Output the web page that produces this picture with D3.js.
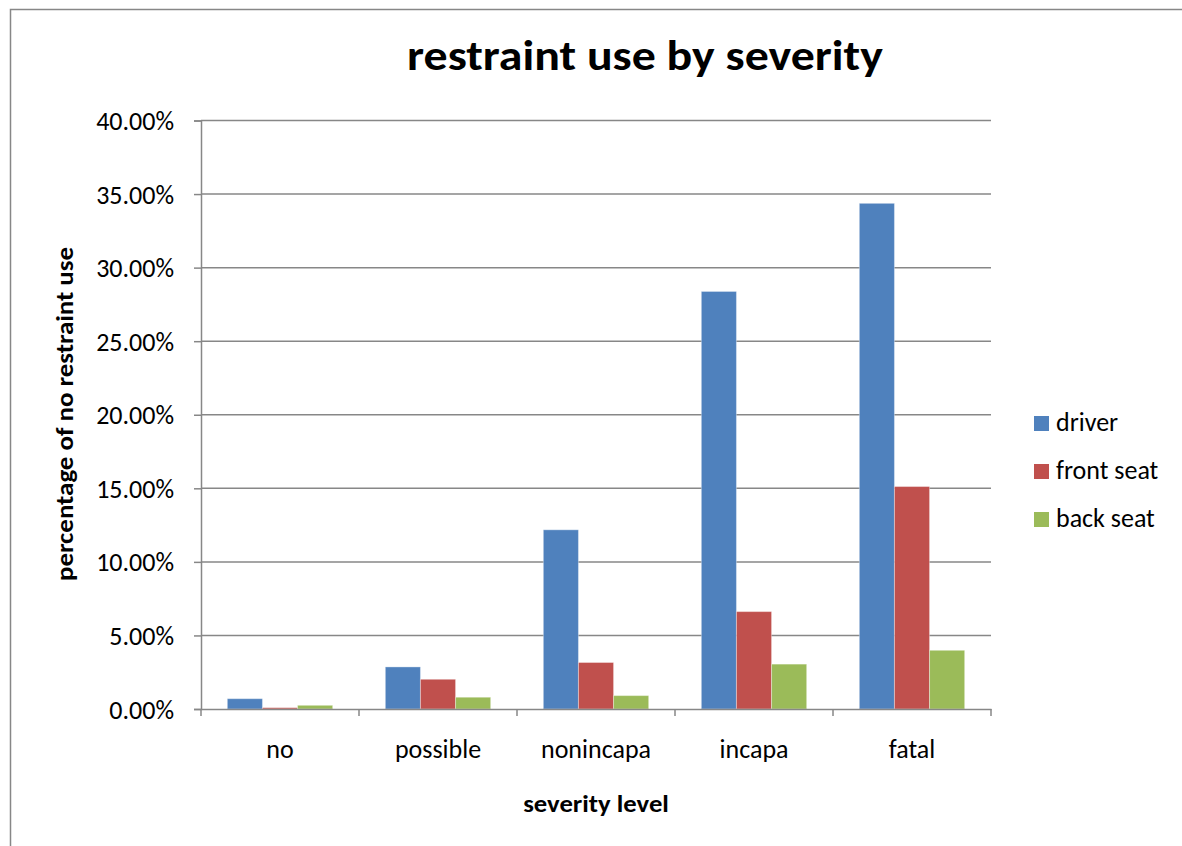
<!DOCTYPE html>
<html>
<head>
<meta charset="utf-8">
<script src="https://cdn.jsdelivr.net/npm/d3@7"></script>
<style>
  html, body { margin: 0; padding: 0; background: #fff; }
  svg { display: block; }
  text { font-family: Carlito, Lato, "Open Sans", sans-serif; fill: #000; }
</style>
</head>
<body>
<svg id="chart" width="1182" height="846"></svg>
<script>
const categories = ["no", "possible", "nonincapa", "incapa", "fatal"];
const seriesNames = ["driver", "front seat", "back seat"];
const driver    = [0.0070, 0.0286, 0.1218, 0.2838, 0.3437];
const frontSeat = [0.0009, 0.0202, 0.0316, 0.0662, 0.1512];
const backSeat  = [0.0025, 0.0080, 0.0091, 0.0305, 0.0399];
const yTicks = [0, 0.05, 0.10, 0.15, 0.20, 0.25, 0.30, 0.35, 0.40];
const colors = ["#4F81BD", "#C0504D", "#9BBB59"];

const seriesValues = [driver, frontSeat, backSeat];
const svg = d3.select("#chart");
const gray = "#878787";

// widen a text horizontally (reference font is wider than the available one)
function stretch(sel, factor) {
  sel.each(function () {
    const w = this.getComputedTextLength();
    d3.select(this).attr("textLength", w * factor).attr("lengthAdjust", "spacingAndGlyphs");
  });
}

// chart frame (top and left edges visible)
svg.append("path")
  .attr("d", "M10.5,846 L10.5,9.5 L1182,9.5")
  .attr("fill", "none").attr("stroke", gray).attr("stroke-width", 1.5);

const plot = { left: 201, right: 991, top: 120.5, bottom: 709 };

const x0 = d3.scaleBand().domain(categories).range([plot.left, plot.right]).paddingInner(0).paddingOuter(0);
const x1 = d3.scaleBand().domain(seriesNames).range([0, x0.bandwidth()]).paddingOuter(0.75).paddingInner(0);
const y = d3.scaleLinear().domain([0, 0.40]).range([plot.bottom, plot.top]);

// gridlines
svg.append("g").selectAll("line").data(yTicks.slice(1)).join("line")
  .attr("x1", plot.left).attr("x2", plot.right)
  .attr("y1", d => y(d)).attr("y2", d => y(d))
  .attr("stroke", gray).attr("stroke-width", 1.5);

// y axis
const yAxis = d3.axisLeft(y).tickValues(yTicks).tickFormat(d3.format(".2%")).tickSize(7).tickPadding(20);
const gy = svg.append("g").attr("transform", `translate(${plot.left},0)`).call(yAxis);
gy.attr("font-family", null).attr("font-size", null);
gy.select(".domain").attr("stroke", gray).attr("stroke-width", 1.5);
gy.selectAll(".tick line").attr("stroke", gray).attr("stroke-width", 1.5);
gy.selectAll(".tick text").style("font-size", "26px").attr("dy", "0.35em");

// bars
const groups = svg.append("g").selectAll("g").data(categories).join("g")
  .attr("transform", c => `translate(${x0(c)},0)`);
groups.selectAll("rect")
  .data((c, i) => seriesNames.map((s, j) => ({ s, j, v: seriesValues[j][i] })))
  .join("rect")
  .attr("x", d => x1(d.s))
  .attr("width", x1.bandwidth())
  .attr("y", d => y(d.v))
  .attr("height", d => y(0) - y(d.v))
  .attr("fill", d => colors[d.j])
  .attr("stroke", "rgba(255,255,255,0.35)")
  .attr("stroke-width", 1);

// x axis
const xAxis = d3.axisBottom(x0).tickSize(0).tickPadding(31);
const gx = svg.append("g").attr("transform", `translate(0,${plot.bottom})`).call(xAxis);
gx.attr("font-family", null).attr("font-size", null);
gx.select(".domain").attr("stroke", gray).attr("stroke-width", 1.5);
gx.selectAll(".tick text").style("font-size", "26px").attr("dy", "0.71em");
// category boundary tick marks
const bounds = categories.map(c => x0(c)).concat([plot.right]);
svg.append("g").selectAll("line").data(bounds).join("line")
  .attr("x1", d => d).attr("x2", d => d)
  .attr("y1", plot.bottom).attr("y2", plot.bottom + 7)
  .attr("stroke", gray).attr("stroke-width", 1.5);

// title
svg.append("text").attr("x", 645).attr("y", 70).attr("text-anchor", "middle")
  .style("font-size", "42px").style("font-weight", "bold").text("restraint use by severity")
  .call(stretch, 1.14);

// axis titles
svg.append("text").attr("x", (plot.left + plot.right) / 2).attr("y", 812).attr("text-anchor", "middle")
  .style("font-size", "24px").style("font-weight", "bold").text("severity level")
  .call(stretch, 1.11);
svg.append("text").attr("transform", "translate(73,414) rotate(-90)").attr("text-anchor", "middle")
  .style("font-size", "24px").style("font-weight", "bold").text("percentage of no restraint use")
  .call(stretch, 1.12);

// legend
const legendY = d3.scalePoint().domain(seriesNames).range([416, 512]);
const lg = svg.append("g").selectAll("g").data(seriesNames).join("g")
  .attr("transform", s => `translate(1034,${legendY(s)})`);
lg.append("rect").attr("width", 15).attr("height", 15).attr("fill", (s, i) => colors[i]);
lg.append("text").attr("x", 22).attr("y", 15).style("font-size", "26px").text(s => s);
</script>
</body>
</html>
